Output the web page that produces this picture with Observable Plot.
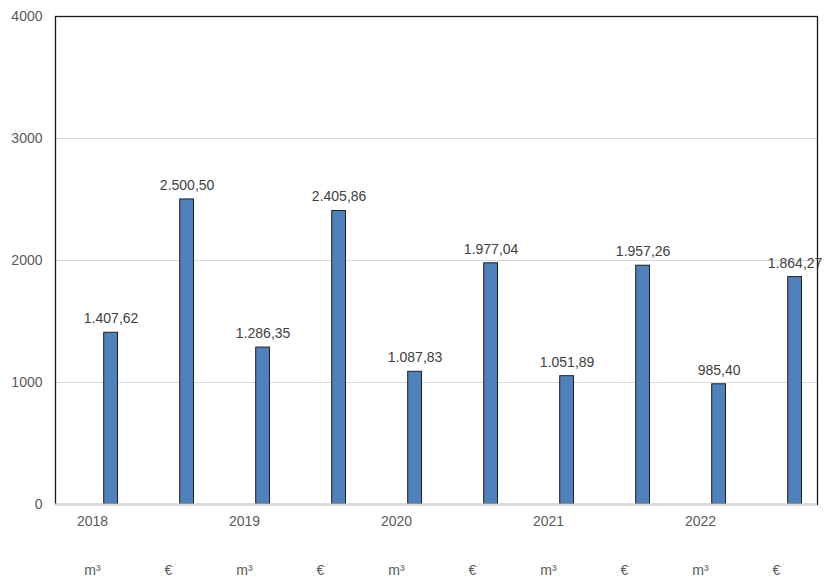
<!DOCTYPE html>
<html>
<head>
<meta charset="utf-8">
<script src="https://cdn.jsdelivr.net/npm/d3@7"></script>
<script src="https://cdn.jsdelivr.net/npm/@observablehq/plot@0.6"></script>
<style>
  html, body { margin: 0; padding: 0; background: #fff; }
  #chart svg { display: block; }
</style>
</head>
<body>
<div id="chart"></div>
<script>
const years = ["2018", "2019", "2020", "2021", "2022"];
const units = ["m³", "€"];
const values = [1407.62, 2500.50, 1286.35, 2405.86, 1087.83, 1977.04, 1051.89, 1957.26, 985.40, 1864.27];
const yTicks = [0, 1000, 2000, 3000, 4000];

function fmtDE(v) {
  const [i, d] = v.toFixed(2).split(".");
  return i.replace(/\B(?=(\d{3})+(?!\d))/g, ".") + "," + d;
}

const data = values.map((v, i) => ({
  idx: i,
  year: years[Math.floor(i / 2)],
  unit: units[i % 2],
  value: v
}));
const domain = data.map(d => d.idx);

const W = 825, H = 582;
const mL = 55, mR = 8, mT = 16, mB = 78;
const bandW = (W - mL - mR) / domain.length;
const barLeft = 47.7, barWidth = 14;
const barCenterOffset = barLeft + barWidth / 2 - bandW / 2;

const chart = Plot.plot({
  width: W,
  height: H,
  marginLeft: mL,
  marginRight: mR,
  marginTop: mT,
  marginBottom: mB,
  style: { fontFamily: "Liberation Sans, Arial, sans-serif", fontSize: "14px", background: "#fff" },
  x: { type: "band", domain, padding: 0, axis: null, label: null },
  y: { domain: [0, 4000], ticks: yTicks, axis: null, label: null },
  marks: [
    Plot.gridY(yTicks.filter(t => t > 0 && t < 4000), { stroke: "#d9d9d9", strokeOpacity: 1 }),
    Plot.barY(data, {
      x: "idx", y: "value",
      insetLeft: barLeft, insetRight: bandW - barLeft - barWidth,
      fill: "#4f81bd", stroke: "#1f1f1f", strokeWidth: 1
    }),
    Plot.text(data, {
      x: "idx", y: "value", text: d => fmtDE(d.value),
      dx: barCenterOffset, dy: -14, fill: "#404040", fontSize: 14
    }),
    Plot.frame({ stroke: "#1a1a1a", strokeWidth: 1.3 }),
    Plot.ruleY([0], { stroke: "#d9d9d9", strokeWidth: 2 }),
    Plot.axisY({ ticks: yTicks, tickSize: 0, tickPadding: 13, fill: "#595959", fontSize: 14, tickFormat: d => String(d), label: null }),
    Plot.axisX({
      domain, tickSize: 0, tickPadding: 12, fill: "#595959", fontSize: 14, dx: -2,
      tickFormat: i => (i % 2 === 0 ? years[i / 2] : ""), label: null
    }),
    Plot.axisX({
      domain, tickSize: 0, tickPadding: 61, fill: "#595959", fontSize: 14, dx: -2,
      tickFormat: i => units[i % 2], label: null
    })
  ]
});
document.getElementById("chart").appendChild(chart);
</script>
</body>
</html>
